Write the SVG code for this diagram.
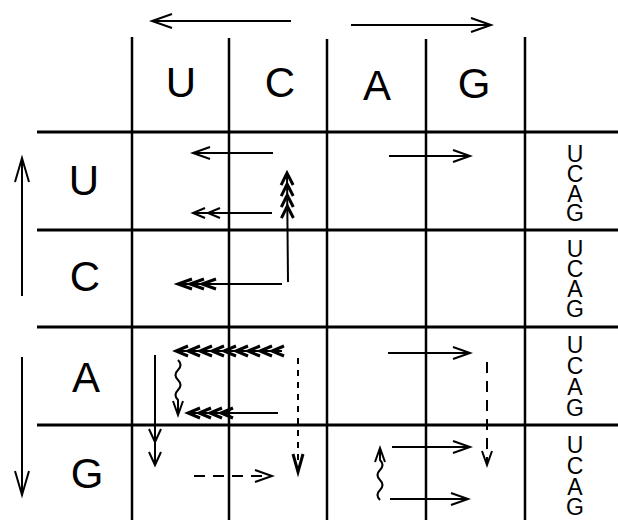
<svg xmlns="http://www.w3.org/2000/svg" width="618" height="520" viewBox="0 0 618 520">
<style>
.grid{stroke:#000;stroke-width:3;fill:none}
.vgrid{stroke:#000;stroke-width:2.5;fill:none}
.ar{stroke:#000;stroke-width:2;fill:none}
.dash1{stroke:#000;stroke-width:2;fill:none;stroke-dasharray:6 6}
.dash2{stroke:#000;stroke-width:2;fill:none;stroke-dasharray:11 8}
.big{font-family:"Liberation Sans",Arial,sans-serif;font-size:42px;text-anchor:middle;fill:#000}
.small{font-family:"Liberation Sans",Arial,sans-serif;font-size:23px;text-anchor:middle;fill:#000}
.mk{fill:none;stroke:#000;stroke-width:2}
.mkh{fill:none;stroke:#000;stroke-width:3}
</style>
<defs>
<marker id="hA" viewBox="-30 -15 40 30" markerWidth="40" markerHeight="30" refX="0" refY="0" orient="auto" markerUnits="userSpaceOnUse" overflow="visible"><path class="mk" d="M-20,-7 L0,0 L-20,7"/></marker>
<marker id="hL" viewBox="-30 -15 40 30" markerWidth="40" markerHeight="30" refX="0" refY="0" orient="auto" markerUnits="userSpaceOnUse" overflow="visible"><path class="mk" d="M-24,-7 L0,0 L-24,7"/></marker>
<marker id="hS" viewBox="-30 -15 40 30" markerWidth="40" markerHeight="30" refX="0" refY="0" orient="auto" markerUnits="userSpaceOnUse" overflow="visible"><path class="mk" d="M-17,-6 L0,0 L-17,6"/></marker>
<marker id="hG" viewBox="-30 -15 40 30" markerWidth="40" markerHeight="30" refX="0" refY="0" orient="auto" markerUnits="userSpaceOnUse" overflow="visible"><path class="mk" d="M-14,-5 L0,0 L-14,5"/></marker>
<marker id="hD" viewBox="-30 -15 40 30" markerWidth="40" markerHeight="30" refX="0" refY="0" orient="auto" markerUnits="userSpaceOnUse" overflow="visible"><path class="mkh" d="M-18,-5 L0,0 L-18,5"/></marker>
<marker id="h2" viewBox="-30 -15 40 30" markerWidth="40" markerHeight="30" refX="0" refY="0" orient="auto" markerUnits="userSpaceOnUse" overflow="visible"><path class="mk" d="M-12,-5 L0,0 L-12,5 M-27,-5 L-15,0 L-27,5"/></marker>
<marker id="hV2" viewBox="-30 -15 40 30" markerWidth="40" markerHeight="30" refX="0" refY="0" orient="auto" markerUnits="userSpaceOnUse" overflow="visible"><path class="mk" d="M-13,-6 L0,0 L-13,6 M-36,-6 L-23,0 L-36,6"/></marker>
<marker id="h4" viewBox="-30 -15 40 30" markerWidth="40" markerHeight="30" refX="0" refY="0" orient="auto" markerUnits="userSpaceOnUse" overflow="visible"><path class="mkh" stroke-width="2.5" d="M-12,-6 L0,0 L-12,6 M-23,-6 L-11,0 L-23,6 M-34,-6 L-22,0 L-34,6 M-45,-6 L-33,0 L-45,6"/></marker>
<marker id="h3" viewBox="-30 -15 40 30" markerWidth="40" markerHeight="30" refX="0" refY="0" orient="auto" markerUnits="userSpaceOnUse" overflow="visible"><path class="mkh" d="M-14,-5 L0,0 L-14,5 M-26,-5 L-12,0 L-26,5 M-38,-5 L-24,0 L-38,5"/></marker>
<marker id="h4b" viewBox="-30 -15 40 30" markerWidth="40" markerHeight="30" refX="0" refY="0" orient="auto" markerUnits="userSpaceOnUse" overflow="visible"><path class="mkh" stroke-width="2.5" d="M-12,-5 L0,0 L-12,5 M-23,-5 L-11,0 L-23,5 M-34,-5 L-22,0 L-34,5 M-45,-5 L-33,0 L-45,5"/></marker>
<marker id="h9" viewBox="-30 -15 40 30" markerWidth="40" markerHeight="30" refX="0" refY="0" orient="auto" markerUnits="userSpaceOnUse" overflow="visible"><path class="mkh" stroke-width="2.5" d="M-12,-5 L0,0 L-12,5 M-24,-5 L-12,0 L-24,5 M-36,-5 L-24,0 L-36,5 M-48,-5 L-36,0 L-48,5 M-60,-5 L-48,0 L-60,5 M-72,-5 L-60,0 L-72,5 M-84,-5 L-72,0 L-84,5 M-96,-5 L-84,0 L-96,5 M-108,-5 L-96,0 L-108,5"/></marker>
</defs>

<g id="grid">
<line class="grid" x1="37" y1="132" x2="618" y2="132"/>
<line class="grid" x1="37" y1="230" x2="618" y2="230"/>
<line class="grid" x1="37" y1="327" x2="618" y2="327"/>
<line class="grid" x1="37" y1="425" x2="618" y2="425"/>
<line class="vgrid" x1="132" y1="37" x2="132" y2="520"/>
<line class="vgrid" x1="229" y1="38" x2="229" y2="520"/>
<line class="vgrid" x1="327" y1="39" x2="327" y2="520"/>
<line class="vgrid" x1="426" y1="39" x2="426" y2="520"/>
<line class="vgrid" x1="525" y1="37" x2="525" y2="520"/>
</g>

<g id="col-headers">
<text class="big" x="181" y="97">U</text>
<text class="big" x="280" y="97">C</text>
<text class="big" x="377" y="100">A</text>
<text class="big" x="474" y="98">G</text>
</g>

<g id="row-headers">
<text class="big" x="84" y="195">U</text>
<text class="big" x="85" y="291">C</text>
<text class="big" x="86" y="392">A</text>
<text class="big" x="87" y="488">G</text>
</g>

<g id="third-base">
<text class="small" x="575" y="162">U</text>
<text class="small" x="575" y="182">C</text>
<text class="small" x="575" y="202">A</text>
<text class="small" x="575" y="221">G</text>
<text class="small" x="575" y="257">U</text>
<text class="small" x="575" y="277">C</text>
<text class="small" x="575" y="297">A</text>
<text class="small" x="575" y="317">G</text>
<text class="small" x="575" y="353">U</text>
<text class="small" x="575" y="374">C</text>
<text class="small" x="575" y="395">A</text>
<text class="small" x="575" y="416">G</text>
<text class="small" x="575" y="453">U</text>
<text class="small" x="575" y="474">C</text>
<text class="small" x="575" y="495">A</text>
<text class="small" x="575" y="515">G</text>
</g>

<g id="connectors">
<line class="ar" x1="291" y1="21" x2="152" y2="21" marker-end="url(#hA)"/>
<line class="ar" x1="351" y1="25" x2="491" y2="25" marker-end="url(#hA)"/>
<line class="ar" x1="22" y1="296" x2="22" y2="158" marker-end="url(#hL)"/>
<line class="ar" x1="22" y1="357" x2="22" y2="495" marker-end="url(#hL)"/>
<line class="ar" x1="273" y1="153" x2="193" y2="153" marker-end="url(#hS)"/>
<line class="ar" x1="389" y1="156" x2="470" y2="156" marker-end="url(#hS)"/>
<line class="ar" x1="272" y1="213" x2="193" y2="213" marker-end="url(#h2)"/>
<line class="ar" x1="288" y1="282" x2="287" y2="173" marker-end="url(#h4)"/>
<line class="ar" x1="282" y1="284" x2="178" y2="284" marker-end="url(#h3)"/>
<line class="ar" x1="282" y1="351" x2="176" y2="351" marker-end="url(#h9)"/>
<line class="ar" x1="278" y1="413" x2="188" y2="413" marker-end="url(#h4b)"/>
<path class="ar" d="M178,360 q5,5 0,10 t0,10 t0,10 t0,10 L178,415" marker-end="url(#hG)"/>
<line class="ar" x1="155" y1="355" x2="155" y2="465" marker-end="url(#hV2)"/>
<line class="dash1" x1="298" y1="358" x2="298" y2="472" marker-end="url(#hD)"/>
<line class="ar" x1="388" y1="353" x2="470" y2="353" marker-end="url(#hS)"/>
<line class="dash2" x1="487" y1="362" x2="487" y2="465" marker-end="url(#hG)"/>
<line class="dash2" x1="194" y1="476" x2="272" y2="476" marker-end="url(#hS)"/>
<line class="ar" x1="392" y1="447" x2="470" y2="447" marker-end="url(#hS)"/>
<line class="ar" x1="390" y1="499" x2="468" y2="499" marker-end="url(#hS)"/>
<path class="ar" d="M380,500 q-5,-5 0,-10 t0,-10 t0,-10 t0,-10 L380,448" marker-end="url(#hG)"/>
</g>
</svg>
